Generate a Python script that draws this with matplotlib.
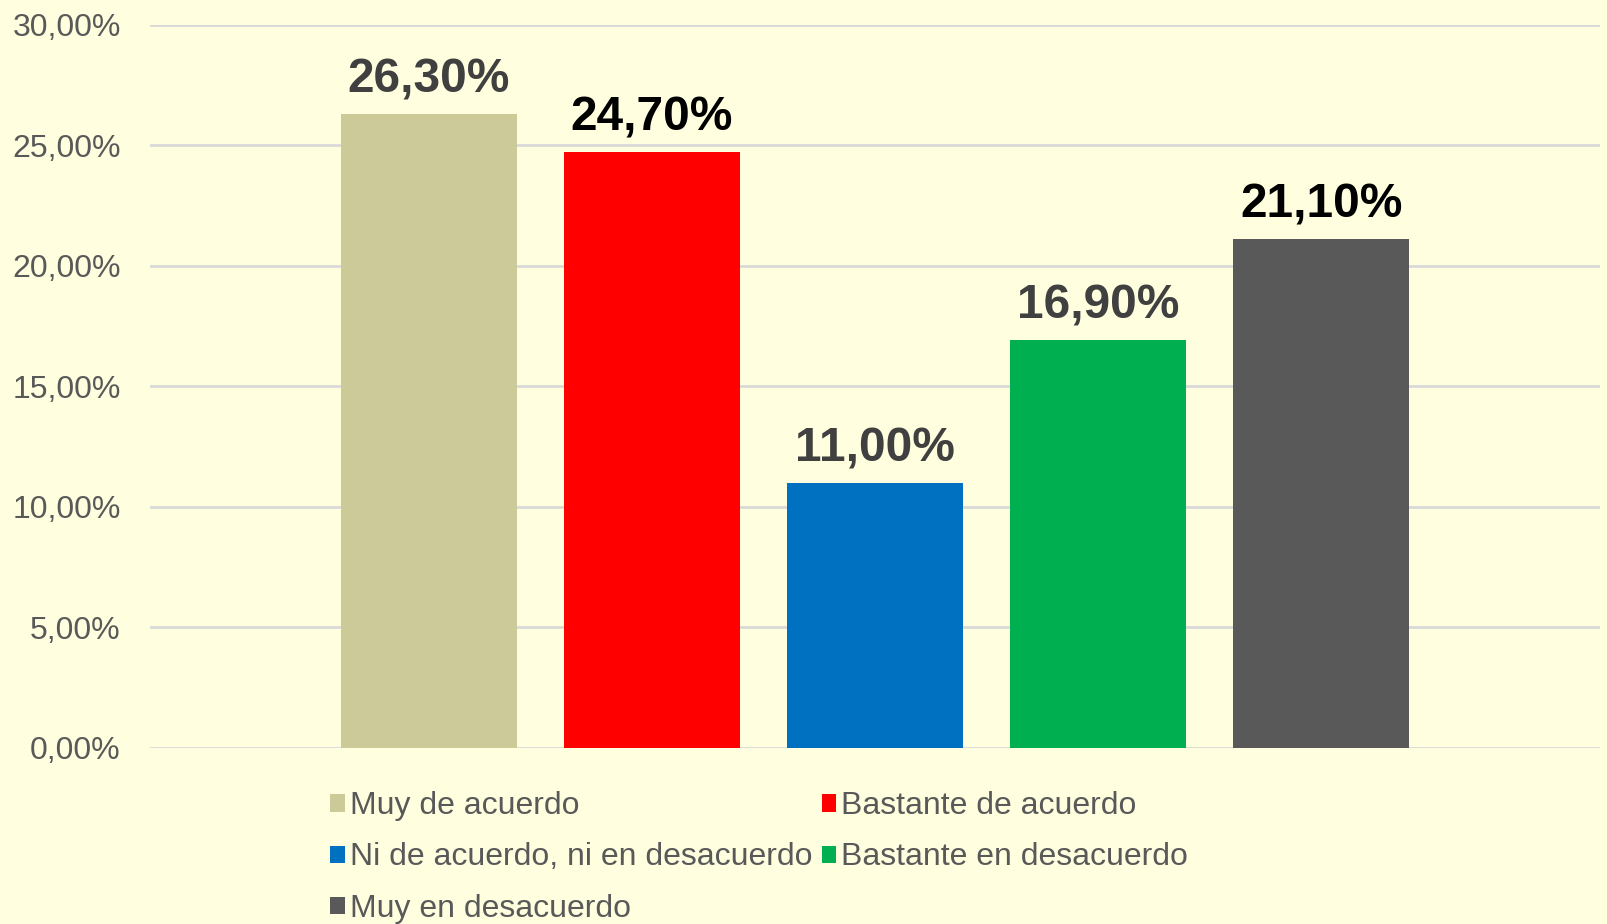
import matplotlib.pyplot as plt
from matplotlib.patches import Patch
from matplotlib.ticker import FuncFormatter

plt.rcParams['font.family'] = ['Liberation Sans', 'DejaVu Sans']

categories = ['Muy de acuerdo', 'Bastante de acuerdo', 'Ni de acuerdo, ni en desacuerdo',
              'Bastante en desacuerdo', 'Muy en desacuerdo']
values = [26.3, 24.7, 11.0, 16.9, 21.1]
colors = ['#CCCA98', '#FF0000', '#0070C0', '#00B050', '#595959']
label_colors = ['#404040', '#000000', '#404040', '#404040', '#000000']
yticks = [0, 5, 10, 15, 20, 25, 30]

bg = '#FFFFE0'
fig = plt.figure(figsize=(16.08, 9.24), dpi=100, facecolor=bg)
ax = fig.add_axes([150 / 1608, 1 - 747.7 / 924, 1450 / 1608, (747.7 - 24.7) / 924])
ax.set_facecolor(bg)

x = list(range(len(values)))
bars = ax.bar(x, [v / 100 for v in values], width=0.79, color=colors, zorder=3)

for b, v, c in zip(bars, values, label_colors):
    ax.annotate(f'{v:.2f}%'.replace('.', ','), (b.get_x() + b.get_width() / 2, b.get_height()),
                xytext=(0, 15.5), textcoords='offset points', ha='center', va='baseline',
                fontsize=34.5, fontweight='bold', color=c)

ax.set_xlim(-1.25, 5.25)
ax.set_ylim(0, 0.30)
ax.set_yticks([t / 100 for t in yticks])
ax.yaxis.set_major_formatter(FuncFormatter(lambda v, p: f'{v * 100:.2f}%'.replace('.', ',')))
ax.tick_params(axis='y', length=0, pad=21, labelsize=23, labelcolor='#595959')
ax.set_xticks([])
ax.grid(axis='y', color='#D9D9D9', linewidth=2, zorder=0)
for s in ax.spines.values():
    s.set_visible(False)

handles = [Patch(facecolor=c, edgecolor='none') for c in colors]
order = [0, 2, 4, 1, 3]
fig.legend([handles[i] for i in order], [categories[i] for i in order],
           ncol=2, loc='upper left', bbox_to_anchor=(0.2055, 0.1435), frameon=False,
           fontsize=23, labelcolor='#595959', handlelength=0.45, handleheight=0.45,
           handletextpad=0.15, columnspacing=0.3, labelspacing=0.66, borderpad=0,
           borderaxespad=0)

fig.savefig('out.png', dpi=100, facecolor=bg)
